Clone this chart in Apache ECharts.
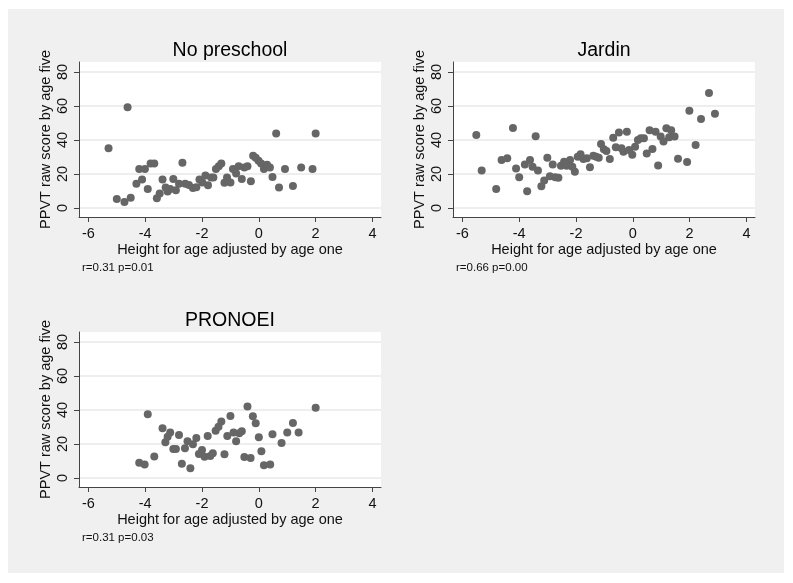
<!DOCTYPE html>
<html>
<head>
<meta charset="utf-8">
<script src="https://cdn.jsdelivr.net/npm/echarts@6/dist/echarts.min.js"></script>
<style>
html,body{margin:0;padding:0;background:#ffffff;}
#bg{position:absolute;left:8px;top:9px;width:776px;height:564px;background:#f0f0f0;}
#chart{position:absolute;left:0;top:0;width:793px;height:583px;}
</style>
</head>
<body>
<div id="bg"></div>
<div id="chart"></div>
<script>
const panelTitles = ['No preschool', 'Jardin', 'PRONOEI'];
const panelNotes = ['r=0.31 p=0.01', 'r=0.66 p=0.00', 'r=0.31 p=0.03'];
const xTicks = [-6, -4, -2, 0, 2, 4];
const yTicks = [0, 20, 40, 60, 80];
const xTitle = 'Height for age adjusted by age one';
const yTitle = 'PPVT raw score by age five';

const noPreX = [-5.29,-4.62,-5.0,-4.73,-4.51,-4.31,-4.21,-4.01,-4.11,-3.91,-3.81,-3.68,-3.59,-3.49,-3.39,-3.28,-3.21,-3.12,-3.01,-2.92,-2.81,-2.69,-2.59,-2.46,-2.32,-2.2,-2.09,-1.99,-1.88,-1.79,-1.68,-1.6,-1.51,-1.41,-1.32,-1.21,-1.12,-1.0,-0.91,-0.8,-0.71,-0.6,-0.51,-0.4,-0.28,-0.2,-0.11,-0.01,0.08,0.18,0.29,0.39,0.48,0.61,0.71,0.92,1.2,1.49,1.89,2.0];
const noPreY = [35.1,59.3,5.3,3.5,6.1,14.2,22.9,22.9,16.7,11.2,26.2,26.2,5.7,8.5,16.7,12.0,9.7,11.2,17.1,10.4,14.2,26.6,14.2,13.6,11.8,12.2,16.7,15.0,19.1,13.4,17.9,17.9,22.9,24.6,26.2,14.8,17.9,15.0,22.9,20.3,24.6,17.1,23.8,24.6,15.8,30.7,29.6,27.8,26.2,22.9,25.4,23.8,18.3,43.9,12.0,22.9,13.0,23.8,22.9,43.9];

const jardinX = [-5.51,-5.32,-4.81,-4.62,-4.42,-4.22,-4.11,-4.0,-3.8,-3.72,-3.62,-3.53,-3.42,-3.34,-3.22,-3.12,-3.01,-2.92,-2.82,-2.73,-2.62,-2.53,-2.42,-2.33,-2.21,-2.13,-2.04,-1.94,-1.84,-1.74,-1.62,-1.51,-1.39,-1.29,-1.2,-1.12,-1.02,-0.93,-0.81,-0.69,-0.6,-0.49,-0.4,-0.33,-0.21,-0.13,-0.02,0.08,0.18,0.28,0.39,0.49,0.59,0.69,0.8,0.89,0.98,1.08,1.18,1.28,1.35,1.47,1.59,1.91,1.99,2.21,2.4,2.68,2.89];
const jardinY = [43.0,22.1,11.2,28.2,29.2,47.1,23.3,18.1,25.6,9.9,28.2,24.3,42.2,22.1,12.8,16.2,29.6,18.7,25.6,18.1,17.8,24.9,27.2,24.9,28.2,24.3,21.3,30.2,31.6,28.8,29.2,23.9,30.8,30.2,29.6,37.7,34.5,33.5,28.8,41.4,35.7,44.4,35.1,33.1,44.8,34.1,31.4,36.1,40.0,41.0,41.0,32.1,45.8,34.7,44.8,25.0,42.0,39.1,46.9,41.6,45.8,42.0,29.0,27.0,57.2,37.1,52.3,67.7,55.4];

const pronoeiX = [-4.21,-4.02,-3.91,-3.68,-3.39,-3.29,-3.21,-3.12,-3.01,-2.92,-2.81,-2.71,-2.6,-2.51,-2.41,-2.32,-2.2,-2.11,-2.0,-1.91,-1.8,-1.71,-1.62,-1.52,-1.42,-1.32,-1.21,-1.11,-1.0,-0.89,-0.8,-0.69,-0.6,-0.51,-0.4,-0.29,-0.21,-0.11,0.0,0.09,0.18,0.4,0.48,0.8,1.0,1.2,1.4,2.0];
const pronoeiY = [9.0,8.0,37.5,12.7,29.2,21.0,24.3,26.7,17.1,17.1,25.3,8.4,17.5,21.6,5.7,19.8,23.5,14.1,16.5,12.5,24.7,12.9,14.5,27.8,30.2,33.3,13.9,24.7,36.5,26.7,21.6,26.3,27.5,12.4,42.0,11.8,36.3,32.2,23.9,15.7,7.5,8.0,25.7,20.6,26.7,32.4,26.7,41.4];

const panelData = [[noPreX, noPreY], [jardinX, jardinY], [pronoeiX, pronoeiY]];

const grids = [
  {left: 79, top: 62, width: 302, height: 155},
  {left: 453, top: 62, width: 302, height: 155},
  {left: 79, top: 332, width: 302, height: 155}
];

const font = 'Liberation Sans, Arial, sans-serif';
const axisColor = '#444444';

const option = {
  animation: false,
  textStyle: {fontFamily: font},
  title: grids.map((g, i) => ({
    text: panelTitles[i],
    left: g.left + g.width / 2,
    top: g.top - 21,
    textAlign: 'center',
    padding: 0,
    textStyle: {fontSize: 19.5, fontWeight: 'normal', color: '#000', fontFamily: font}
  })),
  grid: grids.map(g => Object.assign({show: true, backgroundColor: '#ffffff', borderWidth: 0, containLabel: false}, g)),
  xAxis: grids.map((g, i) => ({
    type: 'value', gridIndex: i, min: -6.33, max: 4.30,
    name: xTitle, nameLocation: 'middle', nameGap: 25,
    nameTextStyle: {fontSize: 14.5, color: '#111', fontFamily: font},
    axisLine: {show: true, onZero: false, lineStyle: {color: axisColor, width: 1}},
    axisTick: {show: true, length: 5, lineStyle: {color: axisColor}, customValues: xTicks},
    axisLabel: {fontSize: 14.5, color: '#111', margin: 9, customValues: xTicks, fontFamily: font},
    splitLine: {show: false}
  })),
  yAxis: grids.map((g, i) => ({
    type: 'value', gridIndex: i, min: -5.3, max: 85.9,
    name: yTitle, nameLocation: 'middle', nameGap: 26, nameRotate: 90,
    nameTextStyle: {fontSize: 14.5, color: '#111', fontFamily: font},
    axisLine: {show: true, onZero: false, lineStyle: {color: axisColor, width: 1}},
    axisTick: {show: true, length: 5, lineStyle: {color: axisColor}, customValues: yTicks},
    axisLabel: {fontSize: 14.5, color: '#111', margin: 9, rotate: 90, customValues: yTicks, fontFamily: font},
    splitLine: {show: true, lineStyle: {color: '#e9e9e9', width: 1.5}}
  })),
  series: panelData.map((d, i) => ({
    type: 'scatter', xAxisIndex: i, yAxisIndex: i,
    symbol: 'circle', symbolSize: 8,
    itemStyle: {color: '#666666', opacity: 1},
    data: d[0].map((x, k) => [x, d[1][k]])
  })),
  graphic: grids.map((g, i) => ({
    type: 'text', left: g.left + 3, top: g.top + g.height + 45,
    style: {text: panelNotes[i], font: '11.5px ' + font, fill: '#111'}
  }))
};

const chart = echarts.init(document.getElementById('chart'), null, {renderer: 'canvas'});
chart.setOption(option);
</script>
</body>
</html>
